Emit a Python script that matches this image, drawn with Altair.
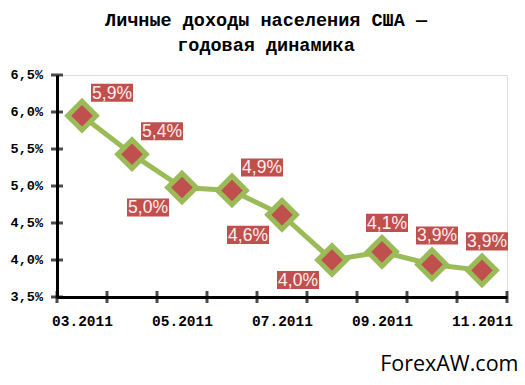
import altair as alt
import pandas as pd

months = ["03.2011", "04.2011", "05.2011", "06.2011", "07.2011",
          "08.2011", "09.2011", "10.2011", "11.2011"]
values = [5.95, 5.43, 4.98, 4.94, 4.61, 4.00, 4.11, 3.94, 3.86]
labels = ["5,9%", "5,4%", "5,0%", "4,9%", "4,6%", "4,0%", "4,1%", "3,9%", "3,9%"]
placement = ["ur", "ur", "dl", "ur", "dl", "dl", "u", "u", "u"]
y_ticks = [3.5, 4.0, 4.5, 5.0, 5.5, 6.0, 6.5]
y_tick_labels = ["3,5%", "4,0%", "4,5%", "5,0%", "5,5%", "6,0%", "6,5%"]
label_months = [0, 2, 4, 6, 8]

title_lines = ["Личные доходы населения США —", "годовая динамика"]
watermark = "ForexAW.com"

df = pd.DataFrame({
    "idx": list(range(len(months))),
    "month": months,
    "value": values,
    "label": labels,
    "place": placement,
})
x_edges = pd.DataFrame({"idx": [i - 0.5 for i in range(len(months) + 1)]})
y_tk = pd.DataFrame({"value": y_ticks, "lab": y_tick_labels})

GREEN = "#9bbb59"
RED = "#c0504d"
W, H = 450, 222

month_expr = "[" + ",".join(f"'{m}'" for m in months) + "][datum.value]"

x_scale = alt.Scale(domain=[-0.5, len(months) - 0.5], nice=False, zero=False)
y_scale = alt.Scale(domain=[3.5, 6.5], nice=False, zero=False)

x_axis = alt.Axis(
    values=label_months, labelExpr=month_expr, ticks=False, grid=False,
    domainColor="black", domainWidth=3, labelFont="Liberation Mono",
    labelFontSize=14.5, labelFontWeight="bold", labelColor="black",
    labelPadding=17, labelFlush=False, labelOverlap=False,
    title=watermark, titleFont="Open Sans", titleFontSize=21.5,
    titleFontWeight="normal", titleColor="black", titleAlign="right",
    titleBaseline="alphabetic", titleX=W + 11, titleY=73)
y_axis = alt.Axis(
    values=y_ticks, labels=False,
    ticks=False, grid=False, domainColor="black", domainWidth=3,
    title=None)

X = alt.X("idx:Q", scale=x_scale, axis=x_axis)
Y = alt.Y("value:Q", scale=y_scale, axis=y_axis)

base = alt.Chart(df)

line = base.mark_line(color=GREEN, strokeWidth=5).encode(x=X, y=Y)
pts = base.mark_point(shape="diamond", filled=True, fill=RED, stroke=GREEN,
                      strokeWidth=5, size=820, opacity=1).encode(x=X, y=Y)

xt = alt.Chart(x_edges).mark_tick(orient="vertical", size=12, thickness=3,
                                  color="black").encode(
    x=X, y=alt.datum(3.5))
ytick_base = alt.Chart(y_tk)
yt = ytick_base.mark_tick(orient="horizontal", size=12, thickness=3,
                          color="black").encode(y=Y, x=alt.datum(-0.5))
ylab = ytick_base.mark_text(font="Liberation Mono", fontSize=13.5,
                            fontWeight="bold", color="black", align="right",
                            baseline="middle", dx=-14).encode(
    y=Y, x=alt.datum(-0.5), text="lab:N")

offsets = {"ur": (30, -23), "dl": (-34, 20), "u": (5, -29)}
box_shape = "M-1,-0.43L1,-0.43L1,0.43L-1,0.43Z"
label_layers = []
for key, (dx, dy) in offsets.items():
    sub = base.transform_filter(alt.datum.place == key)
    label_layers.append(sub.mark_point(shape=box_shape, filled=True, fill=RED,
                                       size=42 * 42, opacity=1, strokeWidth=0,
                                       xOffset=dx, yOffset=dy).encode(x=X, y=Y))
    label_layers.append(sub.mark_text(font="Liberation Sans", fontSize=17.5,
                                      color="#fbeeee", align="center",
                                      baseline="middle", dx=dx, dy=dy + 1).encode(
        x=X, y=Y, text="label:N"))

chart = alt.layer(line, xt, yt, ylab, pts, *label_layers).properties(
    width=W, height=H,
    title=alt.TitleParams(text=title_lines, font="Liberation Mono",
                          fontSize=18.5, fontWeight="bold", lineHeight=25,
                          color="black", anchor="middle", frame="group",
                          dx=-16, offset=14),
    autosize=alt.AutoSizeParams(type="none"),
    padding={"left": 57, "top": 75, "right": 18, "bottom": 88},
).configure_view(stroke=None).configure(background="white")

chart.save("out.html", embed_options={"renderer": "svg", "actions": False})
